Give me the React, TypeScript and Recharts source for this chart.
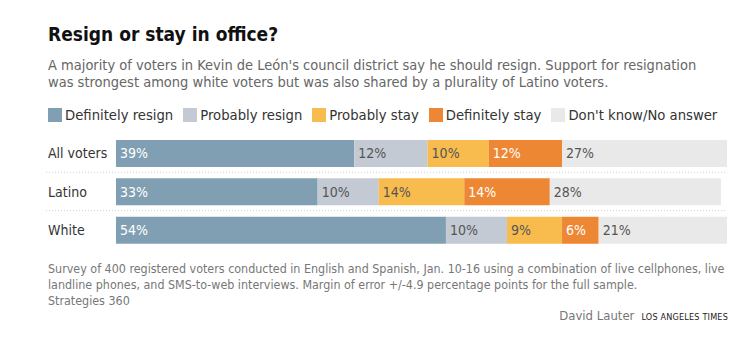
import { Bar, BarChart, CartesianGrid, LabelList, XAxis, YAxis } from 'recharts';

const groups = ['All voters', 'Latino', 'White'];
const definitelyResign = [39, 33, 54];
const probablyResign = [12, 10, 10];
const probablyStay = [10, 14, 9];
const definitelyStay = [12, 14, 6];
const dontKnow = [27, 28, 21];

const series = [
  { key: 'defResign', name: 'Definitely resign', values: definitelyResign, color: '#819fb2', text: '#ffffff' },
  { key: 'probResign', name: 'Probably resign', values: probablyResign, color: '#c3cad3', text: '#555555' },
  { key: 'probStay', name: 'Probably stay', values: probablyStay, color: '#f8bb4e', text: '#555555' },
  { key: 'defStay', name: 'Definitely stay', values: definitelyStay, color: '#ee8734', text: '#ffffff' },
  { key: 'dontKnow', name: "Don't know/No answer", values: dontKnow, color: '#e9e9e9', text: '#555555' },
];

const FONT = '"DejaVu Sans Condensed", Roboto, sans-serif';

const chartData = groups.map((name, i) => {
  const row: Record<string, string | number> = { name };
  series.forEach((s) => {
    row[s.key] = s.values[i];
  });
  return row;
});

function GroupTick({ y, payload }: any) {
  return (
    <text x={48} y={y} dy={5} fill="#333" fontSize={14} fontFamily={FONT} textAnchor="start">
      {payload.value}
    </text>
  );
}

export default function App() {
  return (
    <div style={{ position: 'relative', width: 756, height: 345, background: '#fff', fontFamily: FONT }}>
      <style>{'body{margin:0}'}</style>
      <div style={{ position: 'absolute', left: 48, top: 23, fontSize: 19, fontWeight: 700, color: '#111' }}>
        Resign or stay in office?
      </div>
      <div style={{ position: 'absolute', left: 48, top: 57, width: 700, fontSize: 14.5, lineHeight: '17px', color: '#666', whiteSpace: 'nowrap' }}>
        A majority of voters in Kevin de León's council district say he should resign. Support for resignation
        <br />
        was strongest among white voters but was also shared by a plurality of Latino voters.
      </div>
      <div style={{ position: 'absolute', left: 48, top: 106, display: 'flex', fontSize: 14.7, color: '#333', whiteSpace: 'nowrap' }}>
        {series.map((s) => (
          <div key={s.key} style={{ display: 'flex', alignItems: 'center', marginRight: 10 }}>
            <span style={{ width: 14, height: 14, background: s.color, marginRight: 3, display: 'inline-block' }} />
            <span>{s.name}</span>
          </div>
        ))}
      </div>
      <div style={{ position: 'absolute', left: 0, top: 134 }}>
        <BarChart
          width={756}
          height={115}
          data={chartData}
          layout="vertical"
          margin={{ top: 0, right: 29, bottom: 0, left: 0 }}
          barSize={27}
        >
          <CartesianGrid
            x={46}
            width={681}
            vertical={false}
            stroke="#d0d0d0"
            strokeDasharray="1 2"
            horizontalCoordinatesGenerator={({ offset }: any) => [
              offset.top + offset.height / 3,
              offset.top + (offset.height * 2) / 3,
            ]}
          />
          <XAxis type="number" domain={[0, 100]} hide />
          <YAxis type="category" dataKey="name" width={116} axisLine={false} tickLine={false} tick={<GroupTick />} />
          {series.map((s) => (
            <Bar key={s.key} dataKey={s.key} stackId="a" fill={s.color} isAnimationActive={false}>
              <LabelList
                dataKey={s.key}
                position="insideLeft"
                offset={4}
                formatter={(v: any) => `${v}%`}
                fill={s.text}
                fontSize={14}
                fontFamily={FONT}
              />
            </Bar>
          ))}
        </BarChart>
      </div>
      <div style={{ position: 'absolute', left: 48, top: 261, fontSize: 12.4, lineHeight: '16px', color: '#777', whiteSpace: 'nowrap' }}>
        Survey of 400 registered voters conducted in English and Spanish, Jan. 10-16 using a combination of live cellphones, live
        <br />
        landline phones, and SMS-to-web interviews. Margin of error +/-4.9 percentage points for the full sample.
        <div>Strategies 360</div>
      </div>
      <div style={{ position: 'absolute', right: 28, top: 308, fontSize: 13, color: '#777', display: 'flex', alignItems: 'baseline' }}>
        <span>David Lauter</span>
        <span style={{ marginLeft: 7, fontSize: 9, color: '#222', letterSpacing: 0.2 }}>LOS ANGELES TIMES</span>
      </div>
    </div>
  );
}
